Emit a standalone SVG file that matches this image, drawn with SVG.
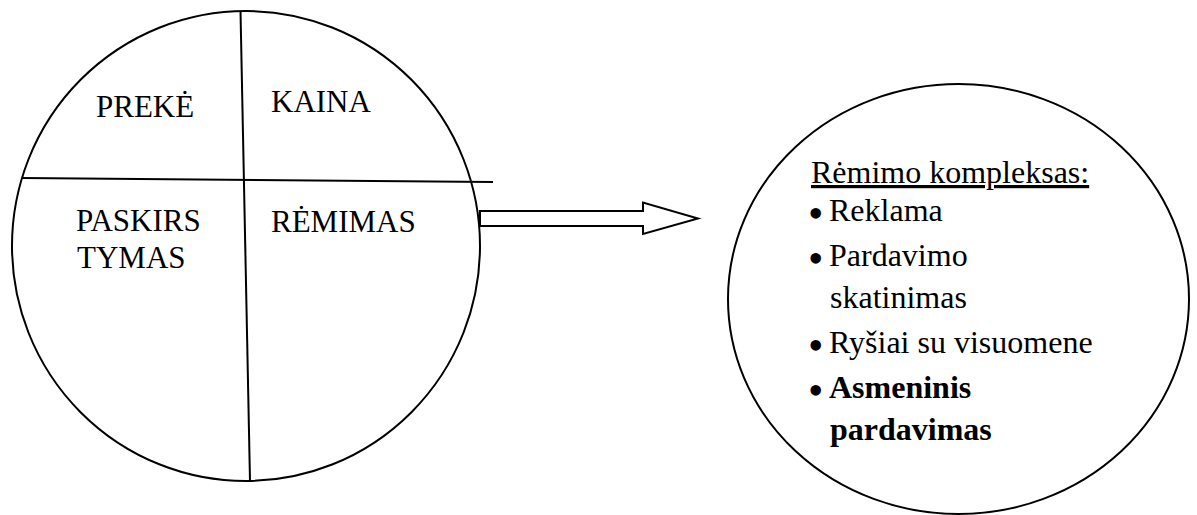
<svg xmlns="http://www.w3.org/2000/svg" width="1197" height="515" viewBox="0 0 1197 515">
<style>
.ln{fill:none;stroke:#000;stroke-width:2}
.t{font-size:31px;fill:#000}
.r{font-size:32px;fill:#000}
.b{font-weight:bold}
.bu{font-size:44px;fill:#000}
</style>
<rect width="1197" height="515" fill="#fff"/>
<g id="marketing-mix" font-family="'Liberation Serif', 'DejaVu Serif', serif">
<ellipse class="ln" cx="246" cy="246" rx="234" ry="235"/>
<line class="ln" x1="240.5" y1="11" x2="250" y2="481"/>
<line class="ln" x1="22" y1="178" x2="493" y2="182"/>
<text class="t" x="96" y="117">PREKĖ</text>
<text class="t" x="271" y="112">KAINA</text>
<text class="t" x="76" y="231">PASKIRS</text>
<text class="t" x="77" y="268">TYMAS</text>
<text class="t" x="271" y="232">RĖMIMAS</text>
</g>
<g id="connectors">
<polygon class="ln" points="480,211 643,211 643,202.5 698,218.5 643,234 643,226 480,226"/>
</g>
<g id="promotion-mix" font-family="'Liberation Serif', 'DejaVu Serif', serif">
<ellipse class="ln" cx="958.5" cy="299" rx="230.5" ry="215"/>
<text class="r" x="811" y="183" text-decoration="underline">Rėmimo kompleksas:</text>
<text class="bu" x="808" y="228">•</text><text class="r" x="829" y="221">Reklama</text>
<text class="bu" x="808" y="273">•</text><text class="r" x="829" y="266">Pardavimo</text>
<text class="r" x="830" y="308">skatinimas</text>
<text class="bu" x="808" y="360">•</text><text class="r" x="829" y="353">Ryšiai su visuomene</text>
<text class="bu" x="808" y="405">•</text><text class="r b" x="829" y="398">Asmeninis</text>
<text class="r b" x="830" y="440">pardavimas</text>
</g>
</svg>
